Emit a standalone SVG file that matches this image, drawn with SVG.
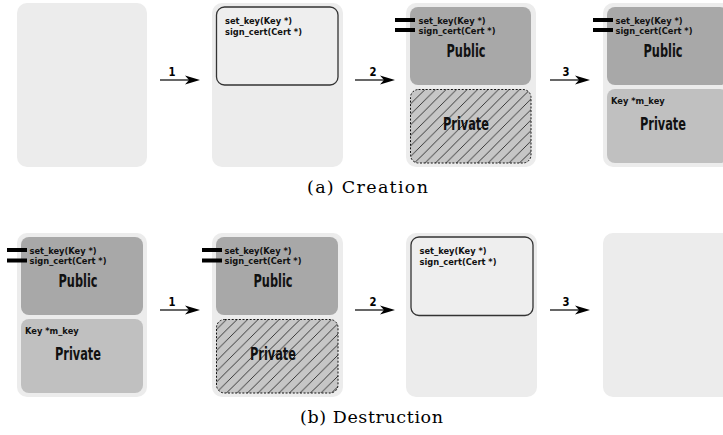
<svg xmlns="http://www.w3.org/2000/svg" width="723" height="435" viewBox="0 0 723 435">
<style>
.panel{fill:#ececec}
.pub{fill:#a8a8a8}
.priv{fill:#c0c0c0}
.hatch{fill:url(#hp);stroke:#111;stroke-width:1;stroke-dasharray:2 1.6}
.iface{fill:#eeeeee;stroke:#333;stroke-width:1.3}
.bar{fill:#000}
.m{font-family:"DejaVu Sans",Verdana,sans-serif;font-weight:bold;font-size:8.3px;fill:#111}
.big{font-family:"DejaVu Sans",sans-serif;font-weight:bold;font-size:17px;fill:#111;text-anchor:middle}
.num{font-family:"DejaVu Sans",sans-serif;font-weight:bold;font-size:13px;fill:#000;text-anchor:middle}
.cap{font-family:"DejaVu Serif","Liberation Serif",serif;font-size:17.5px;fill:#000}
.ln{stroke:#000;stroke-width:1.2;fill:none}
</style>
<defs>
<pattern id="hp" patternUnits="userSpaceOnUse" width="10.5" height="10.5">
<rect width="10.5" height="10.5" fill="#c6c6c6"/>
<path d="M-1,11.5 L11.5,-1 M-2,2 L2,-2 M8.5,12.5 L12.5,8.5" stroke="#111" stroke-width="0.8"/>
</pattern>
<path id="ah" d="M0,0 L-15,-4.5 L-11,0 L-15,4.5 Z" fill="#000"/>
</defs>

<!-- Row A: Creation -->
<g id="a1"><rect class="panel" x="17" y="3" width="130" height="164" rx="10"/></g>
<g id="a2">
<rect class="panel" x="212" y="3" width="131" height="164" rx="10"/>
<rect class="iface" x="216.5" y="7" width="121.5" height="78" rx="8"/>
<text class="m" x="225" y="24">set_key(Key *)</text>
<text class="m" x="225" y="34.5">sign_cert(Cert *)</text>
</g>
<g id="a3">
<rect class="panel" x="406" y="3" width="130" height="164" rx="10"/>
<rect class="pub" x="410" y="7" width="121" height="78" rx="8"/>
<rect class="hatch" x="410.5" y="89.5" width="120.5" height="73.5" rx="8"/>
<rect class="bar" x="395" y="18" width="20" height="4"/>
<rect class="bar" x="395" y="28" width="20" height="4"/>
<text class="m" x="418.5" y="23.5">set_key(Key *)</text>
<text class="m" x="418.5" y="34">sign_cert(Cert *)</text>
<text class="big" x="466" y="57" textLength="39" lengthAdjust="spacingAndGlyphs">Public</text>
<text class="big" x="466" y="129.5" textLength="46" lengthAdjust="spacingAndGlyphs">Private</text>
</g>
<g id="a4">
<rect class="panel" x="603" y="3" width="130" height="164" rx="10"/>
<rect class="pub" x="607" y="7" width="121" height="78" rx="8"/>
<rect class="priv" x="607" y="89" width="121" height="74" rx="8"/>
<rect class="bar" x="593" y="18" width="20" height="4"/>
<rect class="bar" x="593" y="28" width="20" height="4"/>
<text class="m" x="615.5" y="23.5">set_key(Key *)</text>
<text class="m" x="615.5" y="34">sign_cert(Cert *)</text>
<text class="big" x="663" y="57" textLength="39" lengthAdjust="spacingAndGlyphs">Public</text>
<text class="m" x="611" y="104">Key *m_key</text>
<text class="big" x="663" y="130" textLength="46" lengthAdjust="spacingAndGlyphs">Private</text>
</g>

<!-- Row B: Destruction -->
<g id="b1">
<rect class="panel" x="17" y="233" width="130" height="164" rx="10"/>
<rect class="pub" x="21" y="237" width="122" height="78" rx="8"/>
<rect class="priv" x="21" y="319" width="122" height="74" rx="8"/>
<rect class="bar" x="7" y="248" width="20" height="4"/>
<rect class="bar" x="7" y="258.5" width="20" height="4"/>
<text class="m" x="29.5" y="253.5">set_key(Key *)</text>
<text class="m" x="29.5" y="264">sign_cert(Cert *)</text>
<text class="big" x="78" y="287" textLength="39" lengthAdjust="spacingAndGlyphs">Public</text>
<text class="m" x="25" y="334">Key *m_key</text>
<text class="big" x="78" y="360" textLength="46" lengthAdjust="spacingAndGlyphs">Private</text>
</g>
<g id="b2">
<rect class="panel" x="212" y="233" width="131" height="164" rx="10"/>
<rect class="pub" x="216" y="237" width="122" height="78" rx="8"/>
<rect class="hatch" x="216.5" y="319.5" width="121.5" height="73.5" rx="8"/>
<rect class="bar" x="202" y="248" width="20" height="4"/>
<rect class="bar" x="202" y="258.5" width="20" height="4"/>
<text class="m" x="224.5" y="253.5">set_key(Key *)</text>
<text class="m" x="224.5" y="264">sign_cert(Cert *)</text>
<text class="big" x="273" y="287" textLength="39" lengthAdjust="spacingAndGlyphs">Public</text>
<text class="big" x="273" y="359.5" textLength="46" lengthAdjust="spacingAndGlyphs">Private</text>
</g>
<g id="b3">
<rect class="panel" x="406" y="233" width="131" height="164" rx="10"/>
<rect class="iface" x="411" y="237" width="122" height="78.5" rx="8"/>
<text class="m" x="419.5" y="254">set_key(Key *)</text>
<text class="m" x="419.5" y="264.5">sign_cert(Cert *)</text>
</g>
<g id="b4"><rect class="panel" x="603" y="233" width="130" height="164" rx="10"/></g>

<!-- Connectors -->
<g id="connectors">
<line class="ln" x1="160" y1="80" x2="190" y2="80"/><use href="#ah" x="200" y="80"/>
<text class="num" x="172" y="76" textLength="7" lengthAdjust="spacingAndGlyphs">1</text>
<line class="ln" x1="355" y1="80" x2="385" y2="80"/><use href="#ah" x="395" y="80"/>
<text class="num" x="373" y="76" textLength="7" lengthAdjust="spacingAndGlyphs">2</text>
<line class="ln" x1="550" y1="80" x2="580" y2="80"/><use href="#ah" x="590" y="80"/>
<text class="num" x="566" y="76" textLength="7" lengthAdjust="spacingAndGlyphs">3</text>
<line class="ln" x1="160" y1="310" x2="190" y2="310"/><use href="#ah" x="200" y="310"/>
<text class="num" x="172" y="306" textLength="7" lengthAdjust="spacingAndGlyphs">1</text>
<line class="ln" x1="355" y1="310" x2="385" y2="310"/><use href="#ah" x="395" y="310"/>
<text class="num" x="373" y="306" textLength="7" lengthAdjust="spacingAndGlyphs">2</text>
<line class="ln" x1="550" y1="310" x2="580" y2="310"/><use href="#ah" x="590" y="310"/>
<text class="num" x="566" y="306" textLength="7" lengthAdjust="spacingAndGlyphs">3</text>
</g>

<text class="cap" x="307" y="193" textLength="121" lengthAdjust="spacing">(a) Creation</text>
<text class="cap" x="300" y="423" textLength="143" lengthAdjust="spacing">(b) Destruction</text>
</svg>
